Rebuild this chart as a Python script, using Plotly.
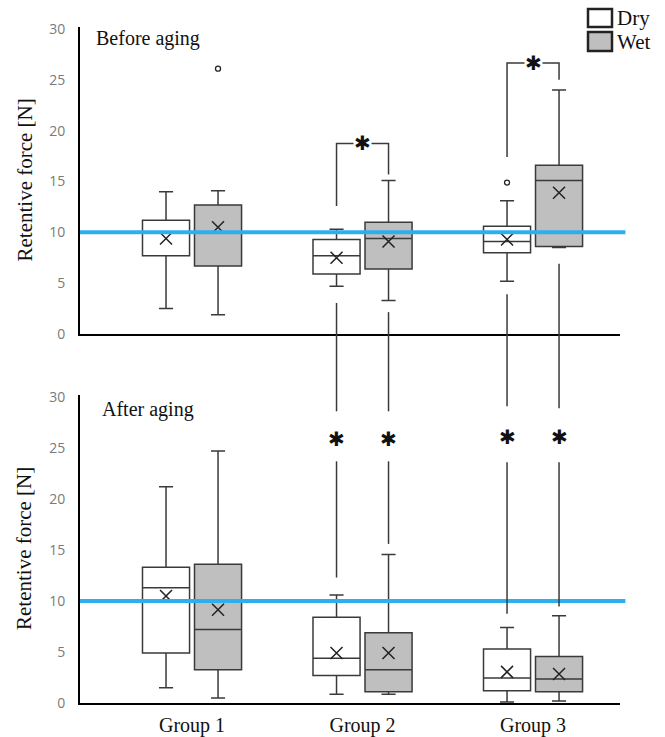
import plotly.graph_objects as go

groups = ["Group 1", "Group 2", "Group 3"]
group_pos = [1, 2, 3]
conditions = ["Dry", "Wet"]

# ---- Before aging ----
b_dry_low = [2.5, 4.7, 5.2]
b_dry_q1 = [7.7, 5.9, 8.0]
b_dry_med = [10.0, 7.7, 9.1]
b_dry_q3 = [11.2, 9.3, 10.6]
b_dry_high = [14.0, 10.3, 13.1]
b_dry_mean = [9.4, 7.5, 9.3]

b_wet_low = [1.9, 3.3, 8.5]
b_wet_q1 = [6.7, 6.4, 8.6]
b_wet_med = [10.0, 9.4, 15.1]
b_wet_q3 = [12.7, 11.0, 16.6]
b_wet_high = [14.1, 15.1, 24.0]
b_wet_mean = [10.5, 9.1, 13.9]

b_out_group = [1, 3]
b_out_cond = ["Wet", "Dry"]
b_out_val = [26.1, 14.9]

# ---- After aging ----
a_dry_low = [1.5, 0.85, 0.1]
a_dry_q1 = [4.9, 2.7, 1.2]
a_dry_med = [11.3, 4.4, 2.45]
a_dry_q3 = [13.3, 8.4, 5.3]
a_dry_high = [21.2, 10.6, 7.4]
a_dry_mean = [10.5, 4.9, 3.05]

a_wet_low = [0.5, 0.85, 0.2]
a_wet_q1 = [3.25, 1.1, 1.1]
a_wet_med = [7.2, 3.25, 2.35]
a_wet_q3 = [13.6, 6.9, 4.55]
a_wet_high = [24.7, 14.55, 8.55]
a_wet_mean = [9.15, 4.9, 2.85]

threshold = 10

# significance brackets (before aging, dry vs wet)
br_group = [2, 3]
br_top = [18.75, 26.65]
br_dry_end = [12.6, 17.4]
br_wet_end = [15.7, 25.0]

# before vs after connectors
cn_group = [2, 2, 3, 3]
cn_cond = ["Dry", "Wet", "Dry", "Wet"]
cn_top_start = [3.05, 2.15, 3.9, 6.9]
cn_bot_end1 = [28.6, 28.6, 29.1, 28.9]
cn_star = [25.9, 25.9, 26.1, 26.1]
cn_bot_start2 = [23.7, 23.7, 23.6, 23.6]
cn_bot_end2 = [12.3, 15.6, 8.75, 9.45]

# ---------- style / layout ----------
W, H = 665, 737
L, R, T, B = 80, 45, 27, 34
PW, PH = W - L - R, H - T - B
YMAX = 30.2
TOP_DOM = [1 - (334 - T) / PH, 1.0]
BOT_DOM = [0.0, 1 - (395 - T) / PH]
OFF = 0.1525
BOXW = 0.276
LINE_C = "#3a3a3a"
DRY_FILL = "white"
WET_FILL = "#bfbfbf"
BLUE = "#2cb0ec"
SERIF = "Liberation Serif, Times New Roman, serif"


def xpos(g, cond):
    return g + (-OFF if cond == "Dry" else OFF)


def py(dom, v):
    return dom[0] + (dom[1] - dom[0]) * v / YMAX


def px_x(p):  # screen px -> paper
    return (p - L) / PW


def px_y(p):
    return 1 - (p - T) / PH


fig = go.Figure()

panels = [
    ("x2", "y2", (b_dry_low, b_dry_q1, b_dry_med, b_dry_q3, b_dry_high, b_dry_mean),
     (b_wet_low, b_wet_q1, b_wet_med, b_wet_q3, b_wet_high, b_wet_mean)),
    ("x", "y", (a_dry_low, a_dry_q1, a_dry_med, a_dry_q3, a_dry_high, a_dry_mean),
     (a_wet_low, a_wet_q1, a_wet_med, a_wet_q3, a_wet_high, a_wet_mean)),
]

for xa, ya, dry, wet in panels:
    for cond, stats, fill in (("Dry", dry, DRY_FILL), ("Wet", wet, WET_FILL)):
        lo, q1, med, q3, hi, mean = stats
        xs = [xpos(g, cond) for g in group_pos]
        fig.add_trace(go.Box(
            x=xs, q1=q1, median=med, q3=q3, lowerfence=lo, upperfence=hi,
            width=BOXW, whiskerwidth=0.3, fillcolor=fill,
            line=dict(color=LINE_C, width=1.5), boxpoints=False,
            showlegend=False, xaxis=xa, yaxis=ya, hoverinfo="skip"))
        fig.add_trace(go.Scatter(
            x=xs, y=mean, mode="markers", showlegend=False,
            marker=dict(symbol="x-thin", size=12, line=dict(color="#222", width=1.5)),
            xaxis=xa, yaxis=ya, hoverinfo="skip"))

# outliers (before aging)
fig.add_trace(go.Scatter(
    x=[xpos(g, c) for g, c in zip(b_out_group, b_out_cond)], y=b_out_val,
    mode="markers", showlegend=False,
    marker=dict(symbol="circle-open", size=5, color="#222", line=dict(width=1.3)),
    xaxis="x2", yaxis="y2", hoverinfo="skip"))

shapes = []
annotations = []

# threshold lines
for xa, ya in (("x2", "y2"), ("x", "y")):
    shapes.append(dict(type="line", xref=xa + " domain", yref=ya, x0=0, x1=1.01,
                       y0=threshold, y1=threshold, line=dict(color=BLUE, width=4), layer="above"))

STAR_FONT = dict(family="DejaVu Sans", size=20, color="#111")
STAR = "✱"

# brackets
for g, top, de, we in zip(br_group, br_top, br_dry_end, br_wet_end):
    xd, xw = xpos(g, "Dry"), xpos(g, "Wet")
    shapes.append(dict(type="path", xref="x2", yref="y2",
                       path=f"M {xd},{de} L {xd},{top} L {xw},{top} L {xw},{we}",
                       line=dict(color=LINE_C, width=1.5)))
    annotations.append(dict(x=g, y=top, xref="x2", yref="y2", text=STAR,
                            showarrow=False, font=STAR_FONT, bgcolor="white",
                            borderpad=0, yshift=0))

# connectors between panels
for g, c, s, e1, st, s2, e2 in zip(cn_group, cn_cond, cn_top_start, cn_bot_end1,
                                     cn_star, cn_bot_start2, cn_bot_end2):
    x = xpos(g, c)
    shapes.append(dict(type="line", xref="x", yref="paper", x0=x, x1=x,
                       y0=py(TOP_DOM, s), y1=py(BOT_DOM, e1),
                       line=dict(color=LINE_C, width=1.5)))
    shapes.append(dict(type="line", xref="x", yref="paper", x0=x, x1=x,
                       y0=py(BOT_DOM, s2), y1=py(BOT_DOM, e2),
                       line=dict(color=LINE_C, width=1.5)))
    annotations.append(dict(x=x, y=st, xref="x", yref="y", text=STAR,
                            showarrow=False, font=STAR_FONT, yshift=0))

# panel titles
annotations.append(dict(x=px_x(94), y=px_y(38), xref="paper", yref="paper",
                        text="Before aging", showarrow=False, xanchor="left",
                        yanchor="middle", font=dict(family=SERIF, size=20, color="#111")))
annotations.append(dict(x=px_x(100), y=px_y(409), xref="paper", yref="paper",
                        text="After aging", showarrow=False, xanchor="left",
                        yanchor="middle", font=dict(family=SERIF, size=20, color="#111")))

# y titles
for dom in (TOP_DOM, BOT_DOM):
    annotations.append(dict(x=px_x(24), y=(dom[0] + dom[1]) / 2, xref="paper", yref="paper",
                            text="Retentive force [N]", textangle=-90, showarrow=False,
                            xanchor="center", yanchor="middle",
                            font=dict(family=SERIF, size=21, color="#111")))

# legend
for cond, fill, y0, y1 in (("Dry", DRY_FILL, 9, 27), ("Wet", WET_FILL, 32, 51)):
    shapes.append(dict(type="rect", xref="paper", yref="paper",
                       x0=px_x(588), x1=px_x(612), y0=px_y(y1), y1=px_y(y0),
                       fillcolor=fill, line=dict(color="#222", width=2.5)))
    annotations.append(dict(x=px_x(615), y=px_y((y0 + y1) / 2), xref="paper", yref="paper",
                            text=cond, showarrow=False, xanchor="left", yanchor="middle",
                            font=dict(family=SERIF, size=21, color="#111")))

ax_common = dict(showgrid=False, zeroline=False, showline=True, linecolor="black",
                 linewidth=2, ticks="", automargin=False)
xr = [0.343, 3.51]
yaxis_common = dict(range=[0, YMAX], tickvals=[0, 5, 10, 15, 20, 25, 30],
                    tickfont=dict(family="Open Sans", size=14, color="#7a7a7a"),
                    ticklabelstandoff=10, **ax_common)

fig.update_layout(
    width=W, height=H, margin=dict(l=L, r=R, t=T, b=B, autoexpand=False),
    paper_bgcolor="white", plot_bgcolor="white", boxmode="overlay",
    xaxis=dict(domain=[0, 1], anchor="y", range=xr, tickvals=group_pos, ticktext=groups,
               tickfont=dict(family=SERIF, size=20, color="#111"),
               ticklabelstandoff=3, **ax_common),
    yaxis=dict(domain=BOT_DOM, anchor="x", **yaxis_common),
    xaxis2=dict(domain=[0, 1], anchor="y2", range=xr, showticklabels=False, **ax_common),
    yaxis2=dict(domain=TOP_DOM, anchor="x2", **yaxis_common),
    shapes=shapes, annotations=annotations, showlegend=False,
)

fig.write_html("out.html", config={"displayModeBar": False},
               post_script="document.body.style.margin='0';document.body.style.overflow='hidden';")
